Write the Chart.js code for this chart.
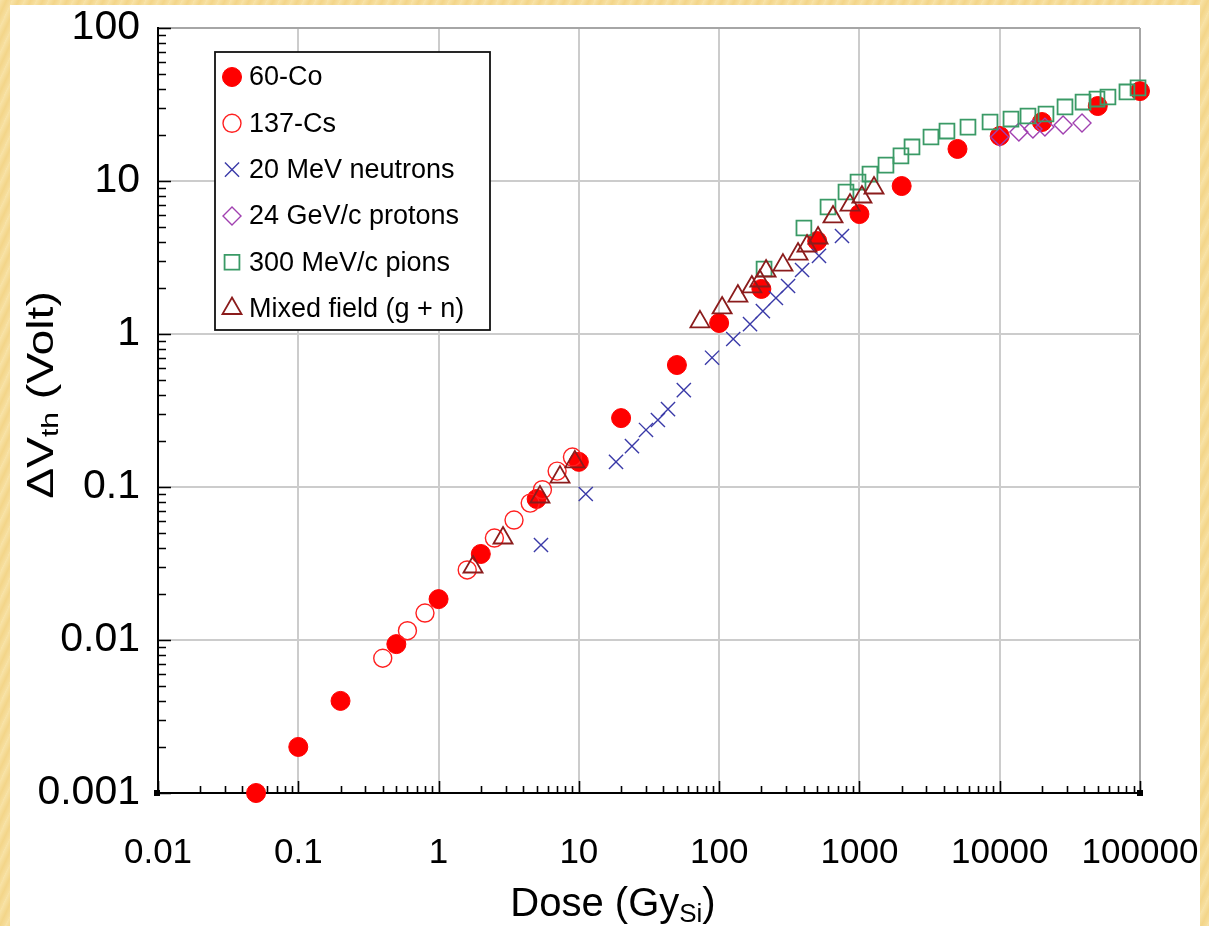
<!DOCTYPE html>
<html>
<head>
<meta charset="utf-8">
<script src="https://cdn.jsdelivr.net/npm/chart.js@4.4.0/dist/chart.umd.min.js"></script>
<style>
    html, body { margin: 0; padding: 0; }
    body {
        width: 1209px; height: 926px; overflow: hidden;
        background: repeating-linear-gradient(115deg, #f8e3a8 0px, #f3d589 6px, #f7df9f 11px);
    }
    canvas { position: absolute; left: 0; top: 0; }
</style>
</head>
<body>
<canvas id="chart" width="1209" height="926"></canvas>
<script>

// 60-Co
let co60_x = [0.05, 0.1, 0.2, 0.5, 1, 2, 5, 10, 20, 50, 100, 200, 500, 1000, 2000, 5000, 10000, 20000, 50000, 100000]
let co60_y = [0.001, 0.002, 0.004, 0.0094, 0.0185, 0.0365, 0.0835, 0.146, 0.282, 0.627, 1.18, 1.97, 4.05, 6.08, 9.27, 16.2, 19.7, 24.3, 30.9, 38.7]
// 137-Cs
let cs137_x = [0.4, 0.6, 0.8, 1.6, 2.5, 3.45, 4.5, 5.5, 7, 9]
let cs137_y = [0.0076, 0.0115, 0.015, 0.0287, 0.0464, 0.0608, 0.0785, 0.096, 0.127, 0.157]
// 20 MeV neutrons
let neutron_x = [5.37, 11.2, 18.4, 23.9, 30.1, 36.6, 43.2, 56, 89, 126, 166, 205, 254, 310, 390, 515, 751]
let neutron_y = [0.0418, 0.09, 0.146, 0.185, 0.236, 0.274, 0.323, 0.43, 0.70, 0.927, 1.16, 1.41, 1.72, 2.06, 2.62, 3.24, 4.37]
// 24 GeV/c protons
let proton_x = [10000, 13700, 17250, 21000, 28300, 38600]
let proton_y = [19.4, 20.9, 21.9, 22.5, 23.2, 23.9]
// 300 MeV/c pions
let pion_x = [209, 402, 597, 802, 977, 1189, 1546, 1977, 2370, 3236, 4207, 5940, 8530, 12030, 15900, 21370, 29200, 39260, 49360, 59100, 80700, 96800]
let pion_y = [2.66, 4.93, 6.76, 8.47, 9.84, 11.1, 12.7, 14.6, 16.7, 19.4, 21.2, 22.5, 24.3, 25.4, 26.6, 27.4, 30.5, 32.8, 34.3, 35.4, 38.2, 40.6]
// Mixed field (g + n)
let mixed_x = [1.76, 2.88, 5.28, 7.34, 9.37, 73, 105, 136, 171, 195, 216, 285, 365, 423, 507, 648, 857, 1042, 1270]
let mixed_y = [0.030, 0.0464, 0.086, 0.116, 0.146, 1.20, 1.48, 1.77, 2.03, 2.22, 2.58, 2.82, 3.33, 3.76, 4.24, 5.82, 6.96, 7.86, 9.0]

let x_decades = [0.01, 0.1, 1, 10, 100, 1000, 10000, 100000]
let x_tick_labels = ["0.01", "0.1", "1", "10", "100", "1000", "10000", "100000"]
let y_decades = [0.001, 0.01, 0.1, 1, 10, 100]
let y_tick_labels = ["0.001", "0.01", "0.1", "1", "10", "100"]

let series_names = ["60-Co", "137-Cs", "20 MeV neutrons", "24 GeV/c protons", "300 MeV/c pions", "Mixed field (g + n)"]

let text_family = '"Liberation Sans", Arial, sans-serif'

function points(xs, ys) {
    let result = []
    for (let i = 0; i < xs.length; i++) result.push({ x: xs[i], y: ys[i] })
    return result
}

function log_ticks(decades) {
    let result = []
    for (let i = 0; i < decades.length; i++) {
        result.push({ value: decades[i], major: true })
        if (i < decades.length - 1) {
            for (let m = 2; m <= 9; m++) result.push({ value: decades[i] * m, major: false })
        }
    }
    return result
}

function decade_index(decades, v) {
    return decades.findIndex((d) => Math.abs(d - v) / d < 1e-9)
}

function grid_color(decades) {
    return function (ctx) {
        let k = decade_index(decades, ctx.tick.value)
        if (k < 0) return "rgba(0,0,0,0)"
        if (k === decades.length - 1) return "#a6a6a6"
        return "#cccccc"
    }
}

// white slide panel
const panel_plugin = {
    id: "panel",
    beforeDraw(chart) {
        let ctx = chart.ctx
        ctx.save()
        ctx.fillStyle = "#ffffff"
        ctx.fillRect(10, 5, 1190, 921)
        ctx.restore()
    }
}

// inward tick marks on the left and bottom axes
const tick_plugin = {
    id: "inward_ticks",
    beforeDatasetsDraw(chart) {
        let ctx = chart.ctx
        let a = chart.chartArea
        let xs = chart.scales.x, ys = chart.scales.y
        ctx.save()
        ctx.strokeStyle = "#000"
        ctx.lineWidth = 1.6
        ctx.beginPath()
        xs.ticks.forEach((t) => {
            let px = Math.round(xs.getPixelForValue(t.value)) + 0.5
            let len = t.major ? 12 : 7
            ctx.moveTo(px, a.bottom)
            ctx.lineTo(px, a.bottom - len)
        })
        ys.ticks.forEach((t) => {
            let py = Math.round(ys.getPixelForValue(t.value)) + 0.5
            let len = t.major ? 13 : 8
            ctx.moveTo(a.left, py)
            ctx.lineTo(a.left + len, py)
        })
        ctx.stroke()
        ctx.fillStyle = "#000"
        ctx.fillRect(a.left - 4, a.bottom - 3, 6, 6)
        ctx.fillRect(a.right - 3, a.bottom - 3, 6, 6)
        ctx.restore()
    }
}

// axis titles with subscripts
const title_plugin = {
    id: "titles",
    afterDraw(chart) {
        let ctx = chart.ctx
        ctx.save()
        ctx.fillStyle = "#000"
        ctx.textBaseline = "alphabetic"
        ctx.textAlign = "left"

        // x title
        let big = "40px " + text_family
        let small = "26px " + text_family
        ctx.font = big
        let w1 = ctx.measureText("Dose (Gy").width
        ctx.font = small
        let w2 = ctx.measureText("Si").width
        ctx.font = big
        let w3 = ctx.measureText(")").width
        let sx = 613 - (w1 + w2 + w3) / 2
        let by = 916
        ctx.fillText("Dose (Gy", sx, by)
        ctx.font = small
        ctx.fillText("Si", sx + w1, by + 6)
        ctx.font = big
        ctx.fillText(")", sx + w1 + w2, by)

        // y title, a little stretched along its length like the reference
        big = "37px " + text_family
        small = "24px " + text_family
        ctx.translate(53, 395)
        ctx.rotate(-Math.PI / 2)
        ctx.scale(1.25, 1)
        ctx.font = big
        let v1 = ctx.measureText("\u0394V").width
        ctx.font = small
        let v2 = ctx.measureText("th").width
        ctx.font = big
        let v3 = ctx.measureText(" (Volt)").width
        let s = -(v1 + v2 + v3) / 2
        ctx.fillText("\u0394V", s, 0)
        ctx.font = small
        ctx.fillText("th", s + v1, 5)
        ctx.font = big
        ctx.fillText(" (Volt)", s + v1 + v2, 0)
        ctx.restore()
    }
}

// boxed legend inside the plot
const legend_plugin = {
    id: "box_legend",
    afterDraw(chart) {
        let ctx = chart.ctx
        ctx.save()
        ctx.fillStyle = "#ffffff"
        ctx.fillRect(215, 52, 275, 278)
        ctx.strokeStyle = "#111"
        ctx.lineWidth = 1.8
        ctx.strokeRect(215, 52, 275, 278)
        ctx.font = "27px " + text_family
        ctx.textBaseline = "middle"
        ctx.textAlign = "left"
        let ds = chart.data.datasets
        for (let i = 0; i < ds.length; i++) {
            let d = ds[i]
            let cy = 77 + i * 46.3
            ctx.fillStyle = d.backgroundColor
            ctx.strokeStyle = d.borderColor
            ctx.lineWidth = d.borderWidth
            Chart.helpers.drawPoint(ctx, { pointStyle: d.pointStyle, radius: d.pointRadius, rotation: 0, borderWidth: d.borderWidth }, 232, cy)
            ctx.fillStyle = "#000"
            ctx.fillText(d.label, 249, cy + 1)
        }
        ctx.restore()
    }
}

let chart = new Chart(document.getElementById("chart"), {
    type: "scatter",
    data: {
        datasets: [
            { label: series_names[0], data: points(co60_x, co60_y), pointStyle: "circle", pointRadius: 9.5, backgroundColor: "#ff0000", borderColor: "#ff0000", borderWidth: 1, order: 6 },
            { label: series_names[1], data: points(cs137_x, cs137_y), pointStyle: "circle", pointRadius: 9, backgroundColor: "rgba(0,0,0,0)", borderColor: "#ff2020", borderWidth: 1.4, order: 5 },
            { label: series_names[2], data: points(neutron_x, neutron_y), pointStyle: "crossRot", pointRadius: 10, backgroundColor: "rgba(0,0,0,0)", borderColor: "#3a3aa8", borderWidth: 1.4, order: 4 },
            { label: series_names[3], data: points(proton_x, proton_y), pointStyle: "rectRot", pointRadius: 9, backgroundColor: "rgba(0,0,0,0)", borderColor: "#a040b0", borderWidth: 1.4, order: 3 },
            { label: series_names[4], data: points(pion_x, pion_y), pointStyle: "rect", pointRadius: 10.5, backgroundColor: "rgba(0,0,0,0)", borderColor: "#3a9a66", borderWidth: 1.8, order: 2 },
            { label: series_names[5], data: points(mixed_x, mixed_y), pointStyle: "triangle", pointRadius: 11, backgroundColor: "rgba(0,0,0,0)", borderColor: "#8b1c1c", borderWidth: 1.8, order: 1 }
        ]
    },
    options: {
        responsive: false,
        animation: false,
        clip: false,
        layout: { padding: { top: 28, right: 69, left: 0, bottom: 0 } },
        plugins: { legend: { display: false }, tooltip: { enabled: false } },
        scales: {
            x: {
                type: "logarithmic",
                min: 0.01,
                max: 100000,
                afterBuildTicks: (scale) => { scale.ticks = log_ticks(x_decades) },
                afterFit: (scale) => {
                    scale.height = 133
                    scale.paddingLeft = 0
                    scale.paddingRight = 0
                },
                grid: { color: grid_color(x_decades), lineWidth: 2, drawTicks: false },
                border: { display: true, color: "#000", width: 2 },
                ticks: {
                    autoSkip: false, maxRotation: 0, minRotation: 0, padding: 39, color: "#000",
                    font: { family: text_family, size: 35 },
                    callback: (v) => { let k = decade_index(x_decades, v); return k >= 0 ? x_tick_labels[k] : "" }
                }
            },
            y: {
                type: "logarithmic",
                min: 0.001,
                max: 100,
                afterBuildTicks: (scale) => { scale.ticks = log_ticks(y_decades) },
                afterFit: (scale) => {
                    scale.width = 158
                    scale.paddingTop = 0
                    scale.paddingBottom = 0
                },
                grid: { color: grid_color(y_decades), lineWidth: 2, drawTicks: false },
                border: { display: true, color: "#000", width: 2 },
                ticks: {
                    autoSkip: false, padding: 18, color: "#000",
                    font: { family: text_family, size: 41 },
                    callback: (v) => { let k = decade_index(y_decades, v); return k >= 0 ? y_tick_labels[k] : "" }
                }
            }
        }
    },
    plugins: [panel_plugin, tick_plugin, title_plugin, legend_plugin]
})
</script>
</body>
</html>
